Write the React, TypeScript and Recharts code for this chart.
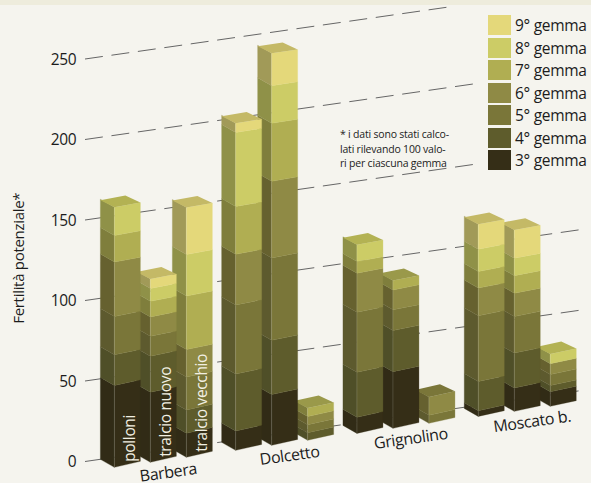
import { BarChart, Bar, XAxis, YAxis, CartesianGrid, Legend } from "recharts";

const categories = ["Barbera", "Dolcetto", "Grignolino", "Moscato b."];
const stackLabels = [["polloni", "tralcio nuovo", "tralcio vecchio"], ["", "", ""], ["", "", ""], ["", "", ""]];
const yTicks = [0, 50, 100, 150, 200, 250];
const gemmaNames = ["3° gemma", "4° gemma", "5° gemma", "6° gemma", "7° gemma", "8° gemma", "9° gemma"];

// one row per variety, three columns = the three bars of the group
const gemma3 = [[50.9, 43.5, 14.9], [12, 31.5, 0], [10, 35.2, 0], [3.5, 14.5, 9]];
const gemma4 = [[19, 22.4, 14.5], [35.4, 33.7, 4.7], [28, 25.5, 0], [18.2, 21.7, 3.9]];
const gemma5 = [[23.8, 12.4, 20.5], [42.9, 51.2, 5], [37.3, 12.9, 5], [40.8, 22.7, 6.8]];
const gemma6 = [[33.8, 12, 17], [31.5, 47.6, 5], [24.2, 12.4, 11.4], [17.2, 14.5, 6.8]];
const gemma7 = [[16.5, 9.7, 33.2], [29.6, 36, 5.3], [7.2, 5.8, 0], [10.3, 10.9, 0]];
const gemma8 = [[17.6, 8, 25.8], [46, 23.4, 0], [10.4, 0, 0], [13.9, 10.8, 6]];
const gemma9 = [[0, 5.8, 29.2], [5.8, 20.1, 0], [0, 0, 0], [15.5, 17.6, 0]];
const gemmas = [gemma3, gemma4, gemma5, gemma6, gemma7, gemma8, gemma9];

const frontColors = ["#352e17", "#5e5c2c", "#7a7639", "#8f8a45", "#b0ae52", "#cccc66", "#e4d87a"];
const sideColors = ["#312b16", "#4f4f28", "#5d5a2e", "#66612f", "#7f7e3c", "#8f9148", "#a19a58"];
const topColors = ["#352e17", "#5e5c2c", "#6f6c35", "#7a7639", "#9a994a", "#b3b253", "#c4b966"];

const gridEnds = [582, 582, 582, 475, 475, 447];

const SLOPE = -0.14;
const ORIGIN_X = 85;
const DEPTH_X = 14;
const DEPTH_Y = 8;
const FRONT_W = 26;
const SLOT = 36;
const ZERO_Y = 461.5;
const TICK_STEP = 80.5;

const data = categories.map((category, c) => {
  const row: Record<string, any> = { category };
  gemmas.forEach((g, i) => g[c].forEach((v, s) => { row[`g${i}_${s}`] = v; }));
  return row;
});

const pts = (list: number[][]) => list.map((p) => p.join(",")).join(" ");

function makeShape(gemma: number, slot: number) {
  return function Segment(props: any) {
    const { x, y, height, payload } = props;
    // recharts lays the stacks out in draw order, the leftmost bar has to be painted last
    const xb = x + (2 * slot - 2) * SLOT;
    const xf = xb + DEPTH_X;
    const xr = xf + FRONT_W;
    const lift = SLOPE * (xb - ORIGIN_X);
    const drop = (yy: number) => -(3.4 + 2.6 * (yy / ZERO_Y));
    const yt = y + lift;
    const yb = y + height + lift;
    const ft = yt + DEPTH_Y;
    const fb = yb + DEPTH_Y;
    const isTop = gemmas.slice(gemma + 1).every((_, k) => !payload[`g${gemma + 1 + k}_${slot}`]);
    const c = categories.indexOf(payload.category);
    const text = gemma === gemmas.length - 1 ? stackLabels[c][slot] : "";
    const textY = ZERO_Y + lift + DEPTH_Y - 5.5;
    return (
      <g>
        {height > 0 && (
          <>
            <polygon points={pts([[xb, yt], [xf, ft], [xf, fb], [xb, yb]])} fill={sideColors[gemma]} stroke={sideColors[gemma]} strokeWidth={0.3} />
            <polygon points={pts([[xf, ft], [xr, ft + drop(ft)], [xr, fb + drop(fb)], [xf, fb]])} fill={frontColors[gemma]} stroke={frontColors[gemma]} strokeWidth={0.3} />
            <line x1={xf} y1={ft} x2={xf} y2={fb} stroke="#ffffff" strokeOpacity={0.2} strokeWidth={0.7} />
            {isTop && (
              <polygon
                points={pts([[xf, ft], [xr, ft + drop(ft)], [xr - 15, ft + drop(ft) - 7], [xb, ft - 7]])}
                fill={topColors[gemma]}
              />
            )}
          </>
        )}
        {text && (
          <text
            transform={`translate(${xf + 21},${textY}) rotate(-90)`}
            fontSize={15.5}
            letterSpacing={-0.35}
            fill="#f1efe2"
          >
            {text}
          </text>
        )}
      </g>
    );
  };
}

function GridLine(props: any) {
  const { y1 } = props;
  const tickIndex = Math.round((ZERO_Y - y1) / TICK_STEP);
  const end = gridEnds[tickIndex];
  return (
    <line
      key={tickIndex}
      x1={ORIGIN_X}
      y1={y1}
      x2={end}
      y2={y1 - 0.143 * (end - ORIGIN_X)}
      stroke="#666"
      strokeWidth={1}
      strokeDasharray="18 8.7"
    />
  );
}

function CategoryTick({ x, y, payload }: any) {
  const cx = x + 15;
  const cy = y + SLOPE * (x - ORIGIN_X) + 18;
  return (
    <text x={cx} y={cy} textAnchor="middle" fontSize={16} letterSpacing={-0.35} fill="#1c1c1c" transform={`rotate(-8 ${cx} ${cy})`}>
      {payload.value}
    </text>
  );
}

function GemmaLegend() {
  return (
    <div style={{ width: 103 }}>
      {[...gemmaNames].reverse().map((name, i) => (
        <div key={name} style={{ display: "flex", alignItems: "center", height: 20, marginBottom: 2.5 }}>
          <div style={{ width: 23, height: 20, background: frontColors[frontColors.length - 1 - i], marginRight: 4 }} />
          <span style={{ fontSize: 15.5, letterSpacing: -0.3, color: "#1c1c1c", whiteSpace: "nowrap" }}>{name}</span>
        </div>
      ))}
    </div>
  );
}

export default function App() {
  return (
    <div style={{ position: "absolute", left: 0, top: 0, width: 591, height: 483, background: "#f5f4ee", fontFamily: "'Open Sans'", overflow: "hidden" }}>
      <div style={{ height: 5, background: "#eeecdc" }} />
      <div style={{ position: "absolute", left: 0, top: 0 }}>
        <BarChart
          width={591}
          height={483}
          data={data}
          margin={{ top: 59, right: 12.45, bottom: 0, left: 0 }}
          barSize={SLOT}
          barGap={0}
        >
          <CartesianGrid vertical={false} horizontal={GridLine as any} />
          <XAxis dataKey="category" height={21.5} axisLine={false} tickLine={false} interval={0} tick={CategoryTick as any} />
          <YAxis
            width={93.35}
            domain={[0, 250]}
            ticks={yTicks}
            axisLine={false}
            tickLine={false}
            tickMargin={11}
            tick={{ fontSize: 15.5, letterSpacing: -0.3, fill: "#1c1c1c" }}
            label={{ value: "Fertilità potenziale*", angle: -90, position: "insideLeft", offset: 19, dy: -2, style: { fontSize: 15, letterSpacing: -0.3, fill: "#1c1c1c", textAnchor: "middle" } }}
          />
          <Legend
            layout="horizontal"
            verticalAlign="middle"
            align="center"
            content={GemmaLegend}
            wrapperStyle={{ position: "absolute", left: 488, top: 15, width: 103 }}
          />
          {[2, 1, 0].map((slot) =>
            gemmas.map((_, i) => (
              <Bar
                key={`${i}_${slot}`}
                dataKey={`g${i}_${slot}`}
                stackId={`s${slot}`}
                fill={frontColors[i]}
                shape={makeShape(i, slot)}
                isAnimationActive={false}
                legendType="none"
              />
            ))
          )}
        </BarChart>
      </div>
      <div style={{ position: "absolute", left: 340, top: 127, fontSize: 10.5, letterSpacing: -0.2, lineHeight: "14.5px", color: "#1c1c1c", whiteSpace: "nowrap" }}>
        * i dati sono stati calco-<br />lati rilevando 100 valo-<br />ri per ciascuna gemma
      </div>
    </div>
  );
}
